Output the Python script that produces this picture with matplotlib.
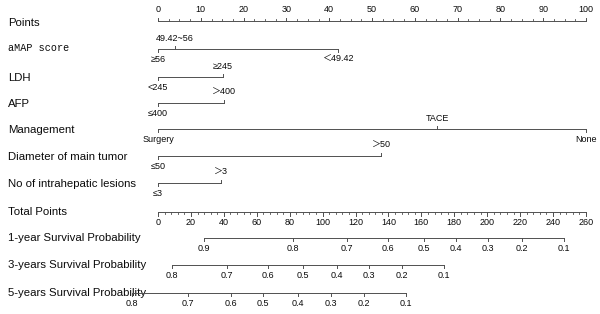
import matplotlib
matplotlib.use('Agg')
import matplotlib.pyplot as plt
from matplotlib.transforms import blended_transform_factory

# ---------------- data ----------------
points_ticks = [0, 10, 20, 30, 40, 50, 60, 70, 80, 90, 100]
total_ticks = [0, 20, 40, 60, 80, 100, 120, 140, 160, 180, 200, 220, 240, 260]

var_names = ['aMAP score', 'LDH', 'AFP', 'Management',
             'Diameter of main tumor', 'No of intrahepatic lesions']

amap_levels = ['≥56', '49.42~56', '＜49.42']
amap_points = [0, 4, 42]
ldh_levels = ['<245', '≥245']
ldh_points = [0, 15.2]
afp_levels = ['≤400', '＞400']
afp_points = [0, 15.4]
mgmt_levels = ['Surgery', 'TACE', 'None']
mgmt_points = [0, 65.2, 100]
diam_levels = ['≤50', '＞50']
diam_points = [0, 52.1]
les_levels = ['≤3', '＞3']
les_points = [0, 14.7]

surv_names = ['1-year Survival Probability', '3-years Survival Probability',
              '5-years Survival Probability']
surv1_probs = ['0.9', '0.8', '0.7', '0.6', '0.5', '0.4', '0.3', '0.2', '0.1']
surv1_total = [27.9, 82.0, 114.8, 139.7, 161.6, 181.0, 200.5, 221.1, 246.6]
surv3_probs = ['0.8', '0.7', '0.6', '0.5', '0.4', '0.3', '0.2', '0.1']
surv3_total = [8.5, 41.9, 66.8, 88.1, 108.7, 128.2, 148.2, 173.7]
surv5_probs = ['0.8', '0.7', '0.6', '0.5', '0.4', '0.3', '0.2', '0.1']
surv5_total = [-16.0, 18.2, 44.3, 63.8, 85.0, 105.1, 125.1, 150.7]

# ---------------- layout ----------------
W, H = 600, 314
X0, X1 = 158, 586            # pixel span of 0..max on the scales
row_y = {'points': 21, 'aMAP score': 49, 'LDH': 77, 'AFP': 103, 'Management': 129,
         'Diameter of main tumor': 156, 'No of intrahepatic lesions': 183,
         'total': 212, 's1': 238, 's3': 265, 's5': 293}
LINE = '#505050'
TXT = '#0a0a0a'
SANS = ['Liberation Sans', 'Noto Sans CJK SC', 'DejaVu Sans']
LAB_FS = 8.2
SM_FS = 6.5

fig = plt.figure(figsize=(W / 100, H / 100), dpi=100)
fig.patch.set_facecolor('white')

def make_axes(maxval):
    a = fig.add_axes([0, 0, 1, 1], frameon=False)
    scale = maxval / (X1 - X0)
    a.set_xlim(-X0 * scale, (W - X0) * scale)
    a.set_ylim(H, 0)
    a.axis('off')
    return a

ax = make_axes(100)       # points scale
axt = make_axes(260)      # total points scale
lab_tr = blended_transform_factory(fig.transFigure, ax.transData)

def row_label(text, y, **kw):
    kw.setdefault('family', SANS)
    kw.setdefault('fontsize', LAB_FS)
    ax.text(8 / W, y, text, transform=lab_tr, ha='left', va='center', color=TXT, **kw)

# Points axis
y = row_y['points']
ax.plot([points_ticks[0], points_ticks[-1]], [y, y], color=LINE, lw=0.7)
minor = [i * 2.5 for i in range(41)]
for m in minor:
    ax.plot([m, m], [y, y - 2], color=LINE, lw=0.6)
for t in points_ticks:
    ax.plot([t, t], [y, y - 3.5], color=LINE, lw=0.7)
    ax.text(t, y - 11, str(t), ha='center', va='center', fontsize=SM_FS, family=SANS, color=TXT)
row_label('Points', y + 1.5)

# Variables
variables = [
    ('aMAP score', amap_levels, amap_points, ['below', 'above', 'below']),
    ('LDH', ldh_levels, ldh_points, ['below', 'above']),
    ('AFP', afp_levels, afp_points, ['below', 'above']),
    ('Management', mgmt_levels, mgmt_points, ['below', 'above', 'below']),
    ('Diameter of main tumor', diam_levels, diam_points, ['below', 'above']),
    ('No of intrahepatic lesions', les_levels, les_points, ['below', 'above']),
]
for name, levels, pts, sides in variables:
    y = row_y[name]
    ax.plot([min(pts), max(pts)], [y, y], color=LINE, lw=0.7)
    for lv, p, s in zip(levels, pts, sides):
        d = -1 if s == 'above' else 1
        ax.plot([p, p], [y, y + 3 * d], color=LINE, lw=0.7)
        ax.text(p, y + (10.5 if d > 0 else -10.5), lv, ha='center', va='center',
                fontsize=SM_FS, family=SANS, color=TXT)
    if name == 'aMAP score':
        row_label(name, y - 1, family=['Liberation Mono', 'DejaVu Sans Mono'], fontsize=7.3)
    else:
        row_label(name, y + 1)

# Total points axis
y = row_y['total']
axt.plot([total_ticks[0], total_ticks[-1]], [y, y], color=LINE, lw=0.7)
for m in range(0, 261, 4):
    axt.plot([m, m], [y, y + 2], color=LINE, lw=0.6)
for t in total_ticks:
    axt.plot([t, t], [y, y + 3.5], color=LINE, lw=0.7)
    axt.text(t, y + 10.5, str(t), ha='center', va='center', fontsize=SM_FS, family=SANS, color=TXT)
row_label('Total Points', y)

# Survival probability axes
for name, key, probs, tots in [(surv_names[0], 's1', surv1_probs, surv1_total),
                               (surv_names[1], 's3', surv3_probs, surv3_total),
                               (surv_names[2], 's5', surv5_probs, surv5_total)]:
    y = row_y[key]
    axt.plot([min(tots), max(tots)], [y, y], color=LINE, lw=0.7)
    for pr, t in zip(probs, tots):
        axt.plot([t, t], [y, y + 3], color=LINE, lw=0.7)
        axt.text(t, y + 10.5, pr, ha='center', va='center', fontsize=SM_FS, family=SANS, color=TXT)
    row_label(name, y)

fig.savefig('out.png', dpi=100, facecolor='white')
